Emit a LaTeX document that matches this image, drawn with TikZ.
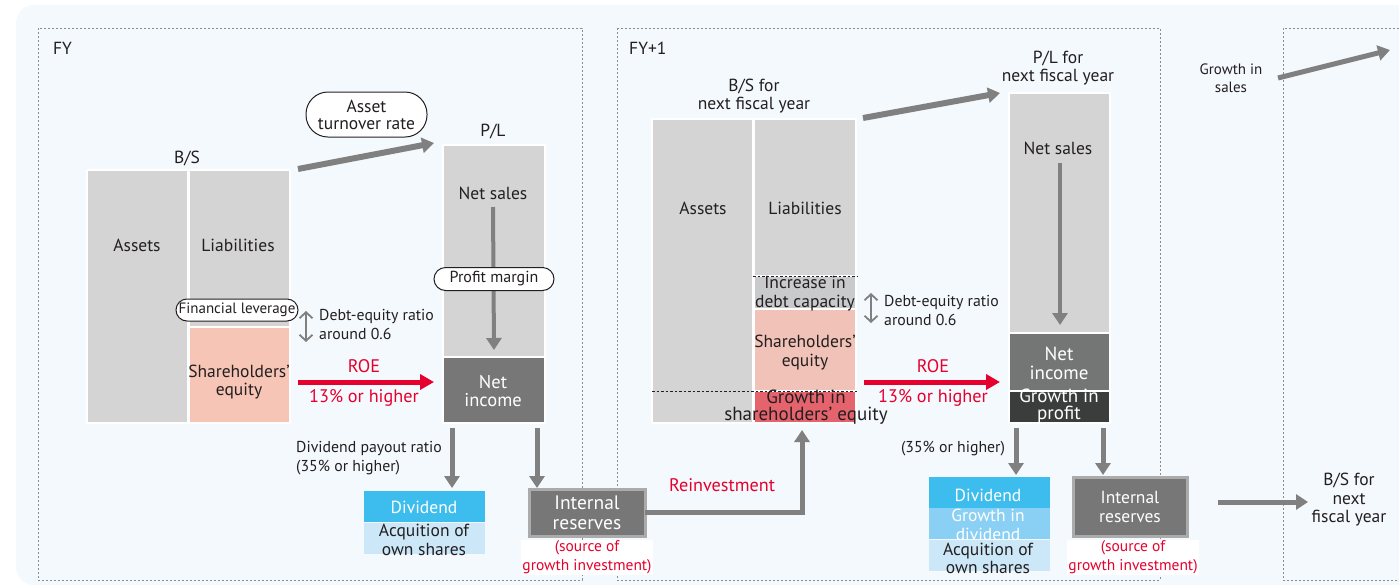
\documentclass[tikz,border=0pt]{standalone}
\usepackage{fontspec}
\setmainfont{PT Sans}
\usetikzlibrary{arrows.meta,calc}
\definecolor{bgc}{HTML}{F4F9FD}
\definecolor{lgray}{HTML}{D4D4D4}
\definecolor{dgray}{HTML}{777777}
\definecolor{pinkA}{HTML}{F6C5B6}
\definecolor{pinkB}{HTML}{F0C2B8}
\definecolor{redbox}{HTML}{E5636D}
\definecolor{incgray}{HTML}{C9CACB}
\definecolor{nibg}{HTML}{747676}
\definecolor{gpbg}{HTML}{3B3C3C}
\definecolor{blueA}{HTML}{3DBDEE}
\definecolor{blueB}{HTML}{89D0F4}
\definecolor{blueC}{HTML}{CCE8F8}
\definecolor{arrgray}{HTML}{808080}
\definecolor{roered}{HTML}{E6002E}
\definecolor{txtc}{HTML}{231F20}
\definecolor{framec}{HTML}{8C8C8C}
\definecolor{irborder}{HTML}{ABABAB}
\newcommand\mybox[6]{\node[#6, anchor=north west, minimum width={#4-#2}, minimum height={#5-#3}] (#1) at (#2,#3) {};}
\tikzset{
  rbox/.style={rectangle, inner sep=0pt, outer sep=0pt, draw=white, line width=2.5pt},
  flat/.style={rectangle, inner sep=0pt, outer sep=0pt},
  irbox/.style={rectangle, inner sep=0pt, outer sep=0pt, fill=dgray, draw=irborder, line width=3pt},
  big/.style={inner sep=0pt, align=center, text=txtc, font=\fontsize{17.5}{18.5}\selectfont},
  small/.style={inner sep=0pt, align=left, text=txtc, font=\fontsize{15.8}{19}\selectfont},
  pill/.style={draw=txtc, line width=1pt, fill=white, inner sep=0pt, align=center, text=txtc, font=\fontsize{16}{17}\selectfont},
  wtxt/.style={big, text=white},
  rtxt/.style={big, text=roered, font=\fontsize{18.2}{18.5}\selectfont},
  garrow/.style={draw=arrgray, line width=5pt, -{Triangle[width=15pt,length=12pt]}},
  rarrow/.style={draw=roered, line width=5pt, -{Triangle[width=15pt,length=14pt]}},
  dbl/.style={draw=arrgray, line width=1.8pt, {Straight Barb[width=13pt,length=6pt]}-{Straight Barb[width=13pt,length=6pt]}},
  frame/.style={draw=framec, line width=0.9pt, dash pattern=on 2pt off 2pt},
  sep/.style={draw=txtc, line width=0.9pt, dash pattern=on 2.5pt off 2pt}
}
\begin{document}
\begin{tikzpicture}[x=1pt,y=-1pt]
\useasboundingbox (0,0) rectangle (1399,587);
\begin{scope}
\clip (0,0) rectangle (1399,587);
\fill[bgc, rounded corners=18pt] (16,5) rectangle (1440,585);
\end{scope}
% frames
\draw[frame] (38,28) rectangle (582,580);
\draw[frame] (617,28) rectangle (1160,580);
\draw[frame] (1399,28) -- (1283,28) -- (1283,580) -- (1399,580);
\node[big, anchor=west] (fyA) at (53,48) {FY};
\node[big, anchor=west] (fyB) at (629,48) {FY+1};

% ===== FY boxes and texts =====
\node[big] (tBSa) at (187,158) {B/S};
\mybox{assetsA}{87}{170}{188}{423}{rbox, fill=lgray}
\mybox{liabA}{189}{170}{290}{327}{rbox, fill=lgray}
\mybox{equityA}{189}{327}{290}{423}{rbox, fill=pinkA}
\node[big] (tAssetsA) at (137,245) {Assets};
\node[big] (tLiabA) at (238,245) {Liabilities};
\node[big] (tEqA) at (239,382) {Shareholders’\\equity};
\node[small, anchor=west] (tDEa) at (319,324.5) {Debt-equity ratio\\around 0.6};
\node[big] (tPLa) at (493,131) {P/L};
\mybox{plA}{443}{145}{545}{357}{rbox, fill=lgray}
\mybox{niA}{443}{357}{545}{423}{rbox, fill=dgray}
\node[big] (tNSa) at (493,193) {Net sales};
\node[wtxt, font=\fontsize{18.5}{18.5}\selectfont] (tNIa) at (493,391) {Net\\income};
\node[rtxt] (tROEa) at (364,366) {ROE};
\node[rtxt] (tROEb) at (364,398) {13\% or higher};
\node[small, anchor=west] (tDPR) at (296,458.5) {Dividend payout ratio\\(35\% or higher)};
\mybox{divA}{364}{491}{485}{522}{flat, fill=blueA}
\mybox{acqA}{364}{522.5}{485}{554}{flat, fill=blueC}
\node[wtxt] (tDivA) at (424,507) {Dividend};
\node[big] (tAcqA) at (424,540) {Acquition of\\own shares};
\mybox{irA}{529}{489}{645}{536}{irbox}
\node[wtxt, font=\fontsize{19.5}{20}\selectfont] (tIRa) at (587,513) {Internal\\reserves};
\node[rtxt, fill=white, inner sep=1pt, font=\fontsize{15.5}{19}\selectfont] (tSrcA) at (587,557.5) {(source of\\growth investment)};

% ===== FY+1 boxes and texts =====
\node[big] (tBSb) at (754,96) {B/S for\\next fiscal year};
\mybox{assetsB}{652}{119}{753}{423}{rbox, fill=lgray}
\mybox{liabB}{754}{119}{856}{276}{rbox, fill=lgray}
\mybox{incB}{754}{276}{856}{309}{rbox, fill=incgray}
\mybox{eqB}{754}{309}{856}{391}{rbox, fill=pinkB}
\mybox{grB}{754}{391}{856}{423}{rbox, fill=redbox}
\draw[sep] (753,276) -- (857,276);
\draw[sep] (652,391) -- (857,391);
\node[big] (tAssetsB) at (703,208) {Assets};
\node[big] (tLiabB) at (805,208) {Liabilities};
\node[big] (tIncB) at (805,293.5) {Increase in\\debt capacity};
\node[big] (tEqB) at (805,352.5) {Shareholders’\\equity};
\node[big, font=\fontsize{19}{16.5}\selectfont] (tGrB) at (806,407) {Growth in\\shareholders’ equity};
\node[small, anchor=west] (tDEb) at (884,310) {Debt-equity ratio\\around 0.6};
\node[rtxt] (tROEc) at (933,366) {ROE};
\node[rtxt] (tROEd) at (933,398) {13\% or higher};
\node[big] (tPLb) at (1058,68) {P/L for\\next fiscal year};
\mybox{plB}{1009}{93}{1110}{333}{rbox, fill=lgray}
\mybox{niB}{1009}{333}{1110}{391}{rbox, fill=nibg}
\mybox{gpB}{1009}{391}{1110}{423}{rbox, fill=gpbg}
\draw[draw=white, line width=0.8pt, dash pattern=on 2pt off 1.5pt] (1010,391) -- (1109,391);
\node[big] (tNSb) at (1058,148) {Net sales};
\node[wtxt, font=\fontsize{19}{19}\selectfont] (tNIb) at (1059,363.5) {Net\\income};
\node[wtxt, font=\fontsize{19}{16.5}\selectfont] (tGPb) at (1059,406) {Growth in\\profit};
\node[small] (t35b) at (953,449) {(35\% or higher)};
\mybox{divB}{929}{477}{1050}{508}{flat, fill=blueA}
\mybox{gdB}{929}{508}{1050}{539}{flat, fill=blueB}
\mybox{acqB}{929}{539.5}{1050}{571}{flat, fill=blueC}
\node[wtxt] (tDivB) at (988,495) {Dividend};
\node[wtxt] (tGdB) at (988,525) {Growth in\\dividend};
\node[big] (tAcqB) at (988,558.5) {Acquition of\\own shares};
\mybox{irB}{1073}{477}{1187}{536}{irbox}
\node[wtxt] (tIRb) at (1130,507) {Internal\\reserves};
\node[rtxt, fill=white, inner sep=1pt, font=\fontsize{15.5}{19}\selectfont] (tSrcB) at (1133,557.5) {(source of\\growth investment)};
\node[rtxt] (tReinv) at (722,485) {Reinvestment};
\node[small, align=center, font=\fontsize{15}{18}\selectfont] (tGS) at (1231,78) {Growth in\\sales};
\node[big] (tBSn) at (1349,500) {B/S for\\next\\fiscal year};
\coordinate (gsTip) at (1390,50);
\coordinate (bsTip) at (1308,502);

% ===== connectors =====
\draw[dbl] (306,311) -- (306,342);
\draw[dbl] (871,293) -- (871,323);
\draw[garrow, line width=4pt] ([shift={(0,14)}]tNSa.center) -- ([shift={(0,-7)}]niA.north);
\draw[garrow, line width=6pt] ([shift={(8,-1)}]liabA.north east) -- ([shift={(-9,-2)}]plA.north west);
\draw[rarrow] ([shift={(8,-41)}]equityA.south east) -- ([shift={(-9,-41)}]niA.south west);
\draw[garrow] ([shift={(9,5)}]niA.south west) -- ([shift={(-33,-3)}]divA.north east);
\draw[garrow] ([shift={(-8,5)}]niA.south east) -- ([shift={(8,-1)}]irA.north west);
\draw[garrow, line width=6pt] ([shift={(7,-1)}]liabB.north east) -- ([shift={(-9,0)}]plB.north west);
\draw[rarrow] ([shift={(8,-9)}]grB.north east) -- ([shift={(-9,-9)}]gpB.north west);
\draw[garrow, line width=4pt] ([shift={(2,15)}]tNSb.center) -- ([shift={(0.5,-8)}]niB.north);
\draw[garrow] ([shift={(7,5)}]gpB.south west) -- ([shift={(-34,-2)}]divB.north east);
\draw[garrow] ([shift={(-7,5)}]gpB.south east) -- ([shift={(30,-2)}]irB.north west);
\draw[garrow] (irA.east) -| ([shift={(-3,7)}]grB.south);
\draw[garrow, line width=5pt] ([shift={(47,0)}]tGS.center) -- (gsTip);
\draw[garrow] ([shift={(31,-4.5)}]irB.east) -- (bsTip);

% ===== pills =====
\node[pill, minimum width=122pt, minimum height=22pt, rounded corners=11pt, font=\fontsize{15}{17}\selectfont] (flev) at (237,310) {Financial leverage};
\node[pill, minimum width=121pt, minimum height=45pt, rounded corners=22pt, font=\fontsize{17.5}{17}\selectfont] (atr) at (366.5,114.5) {Asset\\turnover rate};
\node[pill, minimum width=120pt, minimum height=23pt, rounded corners=11.5pt] (pmar) at (494,279) {Profit margin};
\end{tikzpicture}
\end{document}
